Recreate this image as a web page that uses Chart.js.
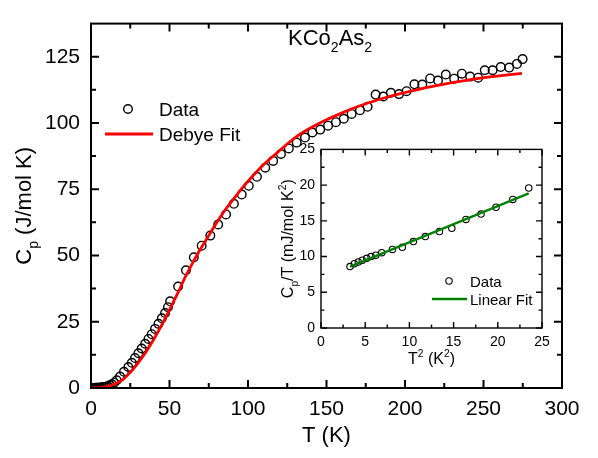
<!DOCTYPE html>
<html>
<head>
<meta charset="utf-8">
<title>KCo2As2 heat capacity</title>
<script src="https://cdn.jsdelivr.net/npm/chart.js@4.4.1/dist/chart.umd.min.js"></script>
<style>
  html, body { margin: 0; padding: 0; background: #fff; }
  #wrap { position: relative; width: 598px; height: 458px; }
  #mainChart { position: absolute; left: 0; top: 0; }
  #insetChart { position: absolute; left: 270px; top: 135px; }
</style>
</head>
<body>
<div id="wrap">
  <canvas id="mainChart" width="598" height="458"></canvas>
  <canvas id="insetChart" width="290" height="240"></canvas>
</div>
<script>
// Main panel: measured heat capacity C_p(T)
const tData = [1.8, 2.2, 2.6, 3.1, 3.7, 4.4, 5.2, 6.1, 7.1, 8.2,
  9.4, 10.7, 12.0, 13.3, 14.8, 16.4, 18.5, 21.0, 23.8, 26.0,
  28.0, 30.2, 32.3, 34.5, 36.6, 38.7, 40.8, 43.0, 45.1, 47.2,
  49.0, 50.4, 55.5, 60.5, 65.5, 70.5, 76.0, 81.0, 86.0, 91.0,
  96.0, 100.5, 105.7, 111.0, 116.0, 121.0, 126.0, 131.0, 136.3, 141.0,
  146.0, 151.0, 156.0, 161.0, 166.0, 171.3, 176.2, 181.3, 186.2, 191.0,
  196.2, 201.0, 206.0, 211.0, 216.0, 221.0, 226.0, 231.3, 236.2, 241.5,
  246.6, 250.8, 255.8, 261.0, 266.4, 271.3, 274.9];
const cpData = [0.02, 0.03, 0.04, 0.05, 0.07, 0.09, 0.13, 0.18, 0.25, 0.35,
  0.5, 0.7, 1.0, 1.4, 2.0, 2.9, 4.3, 6.1, 7.9, 9.5,
  11.3, 13.1, 14.9, 16.7, 18.5, 20.3, 22.3, 24.2, 26.3, 28.3,
  30.5, 32.7, 38.3, 44.4, 49.3, 53.7, 57.5, 61.7, 65.5, 69.5,
  73.0, 76.3, 79.7, 83.1, 85.7, 88.3, 90.4, 92.6, 94.5, 96.4,
  97.5, 99.0, 100.3, 101.6, 103.4, 104.8, 106.1, 110.7, 110.0, 111.4,
  110.9, 112.0, 114.6, 114.5, 116.8, 116.0, 118.3, 116.7, 118.6, 117.5,
  117.1, 119.9, 119.9, 121.1, 120.9, 122.3, 124.1];

// Main panel: Debye fit curve
const tFit = [0, 5, 10, 15, 20, 25, 30, 35, 40, 45, 50, 55, 60, 65, 70, 75, 80, 85, 90, 95,
  100, 110, 120, 130, 140, 150, 160, 170, 180, 190, 200, 210, 220, 230, 240, 250, 260, 270, 274.5];
const cpFit = [0, 0.1, 0.5, 1.5, 3.1, 5.9, 9.5, 13.6, 18.4, 23.7, 29.5, 35.5, 41.8, 47.5, 52.7, 57.5, 62.4, 66.8, 70.7, 74.5,
  78.0, 84.3, 89.5, 94.5, 98.2, 101.2, 103.8, 106.2, 108.2, 110.0, 111.5, 112.9, 114.1, 115.2, 116.2, 117.1, 117.8, 118.4, 118.7];

// Inset: C_p/T vs T^2
const t2Data = [3.28, 3.77, 4.22, 4.67, 5.17, 5.66, 6.2, 6.87, 8.08, 9.2,
  10.45, 11.8, 13.4, 14.8, 16.4, 18.1, 19.8, 21.7, 23.5];
const cptData = [8.6, 9.0, 9.25, 9.5, 9.75, 10.0, 10.2, 10.55, 11.0, 11.3,
  12.1, 12.8, 13.5, 13.95, 15.2, 15.95, 16.9, 18.0, 19.6];
const t2Fit = [3.28, 23.5];
const cptFit = [8.6, 18.85];

const FONT = "'Liberation Sans', Arial, sans-serif";
const INSET_X = 270, INSET_Y = 135;

Chart.defaults.font.family = FONT;
Chart.defaults.color = '#000';

function toPoints(xs, ys) {
  return xs.map((x, i) => ({ x: x, y: ys[i] }));
}

// Draw text with sub/superscript parts: [[text, 'sub'|'sup'|undefined], ...]
function drawRich(ctx, parts, x, y, size, align, angle) {
  const small = size * 0.64;
  ctx.save();
  ctx.translate(x, y);
  ctx.rotate(angle || 0);
  ctx.textBaseline = 'alphabetic';
  ctx.textAlign = 'left';
  ctx.fillStyle = '#000';
  let w = 0;
  parts.forEach(p => {
    ctx.font = (p[1] ? small : size) + 'px ' + FONT;
    w += ctx.measureText(p[0]).width;
  });
  let cx = align === 'center' ? -w / 2 : (align === 'right' ? -w : 0);
  parts.forEach(p => {
    ctx.font = (p[1] ? small : size) + 'px ' + FONT;
    const dy = p[1] === 'sub' ? size * 0.32 : (p[1] === 'sup' ? -size * 0.42 : 0);
    ctx.fillText(p[0], cx, dy);
    cx += ctx.measureText(p[0]).width;
  });
  ctx.restore();
}

// Box frame plus inward major/minor ticks on all four sides
function frameTicks(cfg) {
  return {
    id: 'frameTicks',
    afterDraw(chart) {
      const { ctx, chartArea: a, scales: { x, y } } = chart;
      const isMajor = (v, step) => Math.abs(v / step - Math.round(v / step)) < 1e-6;
      ctx.save();
      ctx.strokeStyle = '#000';
      ctx.lineWidth = cfg.lineWidth;
      ctx.beginPath();
      for (let v = x.min; v <= x.max + 1e-9; v += cfg.xMinor) {
        const px = x.getPixelForValue(v);
        const len = isMajor(v, cfg.xMajor) ? cfg.major : cfg.minor;
        ctx.moveTo(px, a.bottom); ctx.lineTo(px, a.bottom - len);
        ctx.moveTo(px, a.top); ctx.lineTo(px, a.top + len);
      }
      for (let v = y.min; v < y.max - 1e-9; v += cfg.yMinor) {
        const py = y.getPixelForValue(v);
        const len = isMajor(v, cfg.yMajor) ? cfg.major : cfg.minor;
        ctx.moveTo(a.left, py); ctx.lineTo(a.left + len, py);
        ctx.moveTo(a.right, py); ctx.lineTo(a.right - len, py);
      }
      ctx.stroke();
      ctx.strokeRect(a.left, a.top, a.right - a.left, a.bottom - a.top);
      ctx.restore();
    }
  };
}

// Axis titles, legend and compound label of the main panel
const mainLabels = {
  id: 'mainLabels',
  afterDraw(chart) {
    const { ctx, chartArea: a } = chart;
    drawRich(ctx, [['T (K)']], (a.left + a.right) / 2, 442, 22, 'center');
    drawRich(ctx, [['C'], ['p', 'sub'], [' (J/mol K)']], 30.5, (a.top + a.bottom) / 2, 22, 'center', -Math.PI / 2);
    drawRich(ctx, [['KCo'], ['2', 'sub'], ['As'], ['2', 'sub']], 288, 45, 22, 'left');

    ctx.save();
    ctx.lineWidth = 1.4;
    ctx.strokeStyle = '#000';
    ctx.beginPath();
    ctx.arc(128, 109, 4.3, 0, Math.PI * 2);
    ctx.stroke();
    ctx.lineWidth = 2.8;
    ctx.strokeStyle = '#ff0000';
    ctx.beginPath();
    ctx.moveTo(105, 134); ctx.lineTo(153, 134);
    ctx.stroke();
    ctx.restore();
    drawRich(ctx, [['Data']], 159, 116, 19, 'left');
    drawRich(ctx, [['Debye Fit']], 159, 141, 19, 'left');
  }
};

// Axis titles and legend of the inset
const insetLabels = {
  id: 'insetLabels',
  afterDraw(chart) {
    const { ctx, chartArea: a } = chart;
    drawRich(ctx, [['T'], ['2', 'sup'], [' (K'], ['2', 'sup'], [')']], (a.left + a.right) / 2, 364 - INSET_Y, 16, 'center');
    drawRich(ctx, [['C'], ['p', 'sub'], ['/T (mJ/mol K'], ['2', 'sup'], [')']], 293 - INSET_X, (a.top + a.bottom) / 2, 16, 'center', -Math.PI / 2);

    ctx.save();
    ctx.lineWidth = 1.1;
    ctx.strokeStyle = '#000';
    ctx.beginPath();
    ctx.arc(449 - INSET_X, 281 - INSET_Y, 3.2, 0, Math.PI * 2);
    ctx.stroke();
    ctx.lineWidth = 2.4;
    ctx.strokeStyle = '#008000';
    ctx.beginPath();
    ctx.moveTo(432 - INSET_X, 299 - INSET_Y); ctx.lineTo(467 - INSET_X, 299 - INSET_Y);
    ctx.stroke();
    ctx.restore();
    drawRich(ctx, [['Data']], 470 - INSET_X, 286.5 - INSET_Y, 15, 'left');
    drawRich(ctx, [['Linear Fit']], 470 - INSET_X, 304.5 - INSET_Y, 15, 'left');
  }
};

// Function to create the main chart
function createMainChart() {
  new Chart(document.getElementById('mainChart'), {
    type: 'scatter',
    data: {
      datasets: [
        {
          label: 'Debye Fit',
          data: toPoints(tFit, cpFit),
          showLine: true,
          borderColor: '#ff0000',
          borderWidth: 2.8,
          pointRadius: 0,
          cubicInterpolationMode: 'monotone',
          order: 0
        },
        {
          label: 'Data',
          data: toPoints(tData, cpData),
          showLine: false,
          pointRadius: 4.3,
          pointBorderWidth: 1.4,
          pointBorderColor: '#000',
          pointBackgroundColor: 'rgba(0,0,0,0)',
          clip: 0,
          order: 1
        }
      ]
    },
    options: {
      responsive: false,
      animation: false,
      events: [],
      layout: { padding: { top: 6, right: 36, left: 0, bottom: 0 } },
      plugins: { legend: { display: false }, tooltip: { enabled: false } },
      scales: {
        x: {
          type: 'linear', min: 0, max: 300,
          grid: { display: false, drawTicks: false },
          border: { display: false },
          ticks: { stepSize: 50, maxRotation: 0, padding: 9, font: { size: 21 } },
          afterFit: s => { s.height = 70; }
        },
        y: {
          type: 'linear', min: 0, max: 137.5,
          grid: { display: false, drawTicks: false },
          border: { display: false },
          ticks: { stepSize: 25, padding: 11, font: { size: 21 } },
          afterBuildTicks: s => { s.ticks = s.ticks.filter(t => t.value % 25 === 0); },
          afterFit: s => { s.width = 91; }
        }
      }
    },
    plugins: [frameTicks({ xMajor: 50, xMinor: 25, yMajor: 25, yMinor: 12.5, major: 8, minor: 5, lineWidth: 2 }), mainLabels]
  });
}

// Function to create the inset chart
function createInsetChart() {
  new Chart(document.getElementById('insetChart'), {
    type: 'scatter',
    data: {
      datasets: [
        {
          label: 'Linear Fit',
          data: toPoints(t2Fit, cptFit),
          showLine: true,
          borderColor: '#008000',
          borderWidth: 2.4,
          pointRadius: 0,
          order: 0
        },
        {
          label: 'Data',
          data: toPoints(t2Data, cptData),
          showLine: false,
          pointRadius: 3.2,
          pointBorderWidth: 1.1,
          pointBorderColor: '#000',
          pointBackgroundColor: 'rgba(0,0,0,0)',
          order: 1
        }
      ]
    },
    options: {
      responsive: false,
      animation: false,
      events: [],
      layout: { padding: { top: 14, right: 18, left: 0, bottom: 0 } },
      plugins: { legend: { display: false }, tooltip: { enabled: false } },
      scales: {
        x: {
          type: 'linear', min: 0, max: 25,
          grid: { display: false, drawTicks: false },
          border: { display: false },
          ticks: { stepSize: 5, maxRotation: 0, padding: 6, font: { size: 14 } },
          afterFit: s => { s.height = 47; }
        },
        y: {
          type: 'linear', min: 0, max: 25,
          grid: { display: false, drawTicks: false },
          border: { display: false },
          ticks: { stepSize: 5, padding: 6, font: { size: 14 } },
          afterFit: s => { s.width = 51; }
        }
      }
    },
    plugins: [frameTicks({ xMajor: 5, xMinor: 2.5, yMajor: 5, yMinor: 2.5, major: 6, minor: 3.5, lineWidth: 1.4 }), insetLabels]
  });
}

createMainChart();
createInsetChart();
</script>
</body>
</html>
